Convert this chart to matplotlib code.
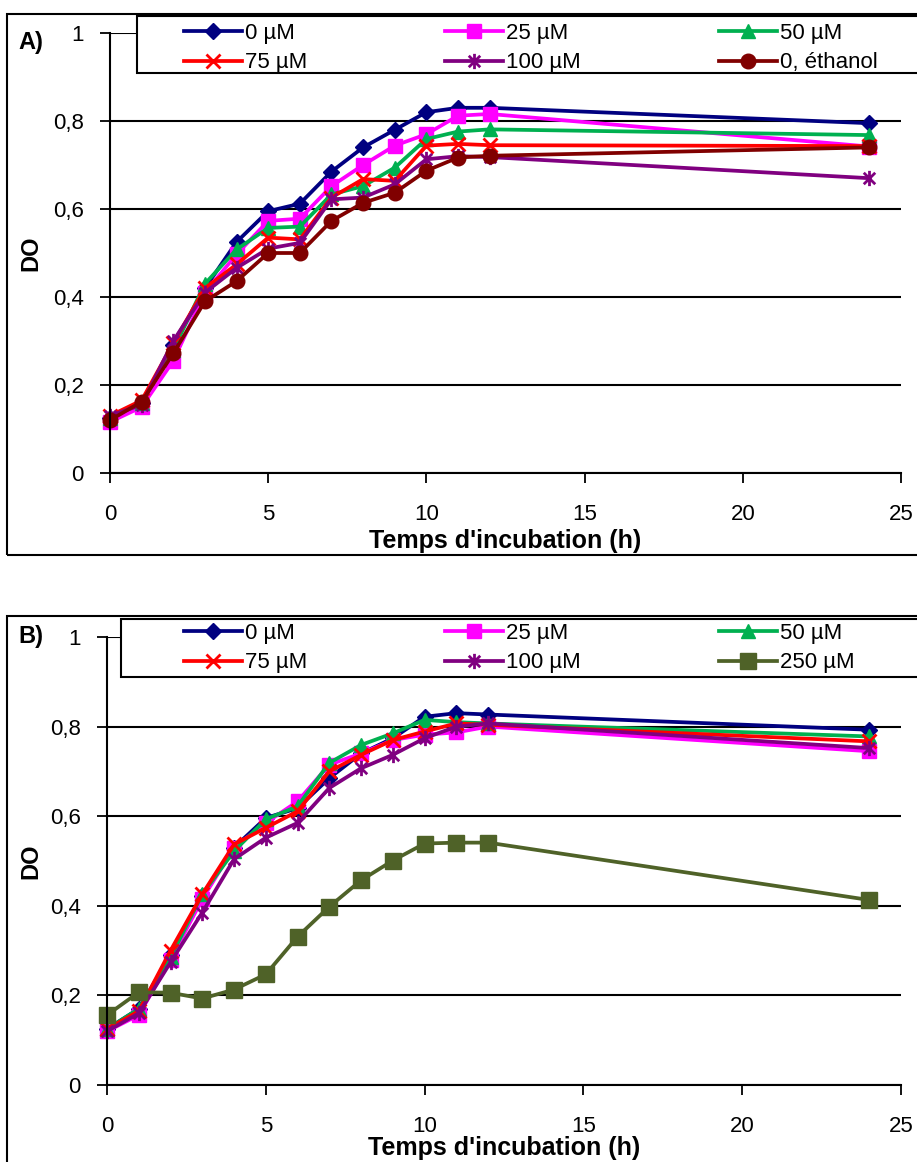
import matplotlib
matplotlib.use("Agg")
import matplotlib.pyplot as plt
from matplotlib.patches import Rectangle
from matplotlib.path import Path

plt.rcParams['font.family'] = ['Liberation Sans', 'DejaVu Sans']

hours = [0, 1, 2, 3, 4, 5, 6, 7, 8, 9, 10, 11, 12, 24]

# Panel A
a_0 = [0.125, 0.16, 0.29, 0.42, 0.525, 0.595, 0.612, 0.685, 0.74, 0.78, 0.82, 0.83, 0.83, 0.795]
a_25 = [0.116, 0.15, 0.255, 0.41, 0.497, 0.573, 0.578, 0.652, 0.70, 0.744, 0.77, 0.812, 0.816, 0.742]
a_50 = [0.125, 0.16, 0.28, 0.43, 0.508, 0.557, 0.56, 0.633, 0.652, 0.694, 0.759, 0.776, 0.781, 0.768]
a_75 = [0.13, 0.165, 0.295, 0.42, 0.474, 0.535, 0.531, 0.626, 0.668, 0.664, 0.744, 0.748, 0.745, 0.743]
a_100 = [0.13, 0.155, 0.30, 0.41, 0.466, 0.51, 0.523, 0.622, 0.626, 0.656, 0.713, 0.72, 0.718, 0.67]
a_eth = [0.12, 0.162, 0.272, 0.39, 0.436, 0.50, 0.50, 0.573, 0.614, 0.637, 0.687, 0.717, 0.721, 0.74]
labels_a = ["0 µM", "25 µM", "50 µM", "75 µM", "100 µM", "0, éthanol"]

# Panel B
b_0 = [0.125, 0.17, 0.29, 0.422, 0.53, 0.596, 0.618, 0.685, 0.74, 0.774, 0.822, 0.83, 0.827, 0.793]
b_25 = [0.12, 0.156, 0.28, 0.415, 0.53, 0.585, 0.633, 0.715, 0.74, 0.77, 0.782, 0.787, 0.80, 0.745]
b_50 = [0.125, 0.17, 0.285, 0.426, 0.522, 0.593, 0.622, 0.719, 0.759, 0.785, 0.815, 0.81, 0.807, 0.778]
b_75 = [0.125, 0.165, 0.30, 0.426, 0.537, 0.574, 0.611, 0.70, 0.737, 0.77, 0.789, 0.807, 0.804, 0.767]
b_100 = [0.12, 0.16, 0.274, 0.385, 0.504, 0.552, 0.585, 0.663, 0.707, 0.737, 0.774, 0.80, 0.807, 0.752]
b_250 = [0.156, 0.207, 0.206, 0.193, 0.213, 0.247, 0.331, 0.398, 0.457, 0.501, 0.539, 0.541, 0.541, 0.413]
labels_b = ["0 µM", "25 µM", "50 µM", "75 µM", "100 µM", "250 µM"]

ytick_vals = [0, 0.2, 0.4, 0.6, 0.8, 1.0]
ytick_labels = ["0", "0,2", "0,4", "0,6", "0,8", "1"]
xtick_vals = [0, 5, 10, 15, 20, 25]

# Excel-like asterisk marker: x plus vertical bar
star = Path([(0, -1), (0, 1), (-0.75, -0.75), (0.75, 0.75), (-0.75, 0.75), (0.75, -0.75)],
            [Path.MOVETO, Path.LINETO, Path.MOVETO, Path.LINETO, Path.MOVETO, Path.LINETO])

styles_a = [
    dict(color='#000080', marker='D', ms=8.5),
    dict(color='#FF00FF', marker='s', ms=9.5),
    dict(color='#00B050', marker='^', ms=10.5),
    dict(color='#FF0000', marker='x', ms=10, mew=2),
    dict(color='#800080', marker=star, ms=11, mew=2),
    dict(color='#800000', marker='o', ms=10.5),
]
styles_b = styles_a[:5] + [dict(color='#4F6228', marker='s', ms=11.5)]

W, H = 917, 1162
def fx(p):
    return p / W
def fy(p):
    return 1 - p / H

fig = plt.figure(figsize=(W / 100, H / 100), dpi=100)

def panel(left_px, top_px, bottom_px, series, labels, styles, tag, tag_y,
          frame_top, frame_bottom, leg_left, leg_top, leg_bottom, leg_anchor, xlab_off):
    ax = fig.add_axes([fx(left_px), fy(bottom_px), fx(901) - fx(left_px), fy(top_px) - fy(bottom_px)])
    handles = []
    for ys, lab, st in zip(series, labels, styles):
        st = dict(st)
        mew = st.pop('mew', 1)
        h, = ax.plot(hours, ys, lw=2.7, color=st['color'], marker=st['marker'],
                     ms=st['ms'], mew=mew, mec=st['color'], mfc=st['color'],
                     label=lab, clip_on=False)
        handles.append(h)
    ax.set_xlim(0, 25)
    ax.set_ylim(0, 1)
    ax.set_xticks(xtick_vals)
    ax.set_yticks(ytick_vals)
    ax.set_yticklabels(ytick_labels)
    for sp in ['top', 'right']:
        ax.spines[sp].set_visible(False)
    for sp in ['left', 'bottom']:
        ax.spines[sp].set_linewidth(1.5)
        ax.spines[sp].set_color('black')
    ax.yaxis.grid(True, color='black', lw=1.5)
    ax.set_axisbelow(True)
    ax.tick_params(axis='both', direction='out', length=7, width=1.3, labelsize=16, colors='black')
    ax.tick_params(axis='x', pad=15)
    ax.tick_params(axis='y', pad=12)
    ax.set_xlabel("Temps d'incubation (h)", fontsize=18, fontweight='bold', va='top')
    ax.set_ylabel("DO", fontsize=17, fontweight='bold')
    hpx = bottom_px - top_px
    wpx = 901 - left_px
    ax.xaxis.set_label_coords(0.5, -xlab_off / hpx)
    ax.yaxis.set_label_coords(-(left_px - 42) / wpx, 0.5)
    # outer frame
    fig.patches.append(Rectangle((fx(7), fy(frame_bottom)), fx(980) - fx(7), fy(frame_top) - fy(frame_bottom),
                                 transform=fig.transFigure, fill=False, ec='black', lw=1.5, zorder=1))
    # legend box
    fig.patches.append(Rectangle((fx(leg_left), fy(leg_bottom)), fx(980) - fx(leg_left), fy(leg_top) - fy(leg_bottom),
                                 transform=fig.transFigure, fc='white', ec='black', lw=1.5, zorder=2))
    order = [0, 3, 1, 4, 2, 5]
    fig.legend([handles[i] for i in order], [labels[i] for i in order], ncol=3,
               loc='upper left', bbox_to_anchor=(fx(184), fy(leg_anchor)),
               bbox_transform=fig.transFigure, frameon=False, borderpad=0,
               fontsize=16, handlelength=2.6, handletextpad=0.15, columnspacing=6.2,
               labelspacing=0.38, borderaxespad=0)
    fig.text(fx(18), fy(tag_y), tag, fontsize=17, fontweight='bold', va='center', ha='left')
    return ax

axA = panel(110, 33, 473, [a_0, a_25, a_50, a_75, a_100, a_eth], labels_a, styles_a,
            "A)", 42, 14, 555, 137, 16, 73, 23, 56)
axB = panel(107, 637, 1085, [b_0, b_25, b_50, b_75, b_100, b_250], labels_b, styles_b,
            "B)", 637, 616, 1250, 121, 619, 677, 623, 51)

fig.savefig("out.png", dpi=100)
